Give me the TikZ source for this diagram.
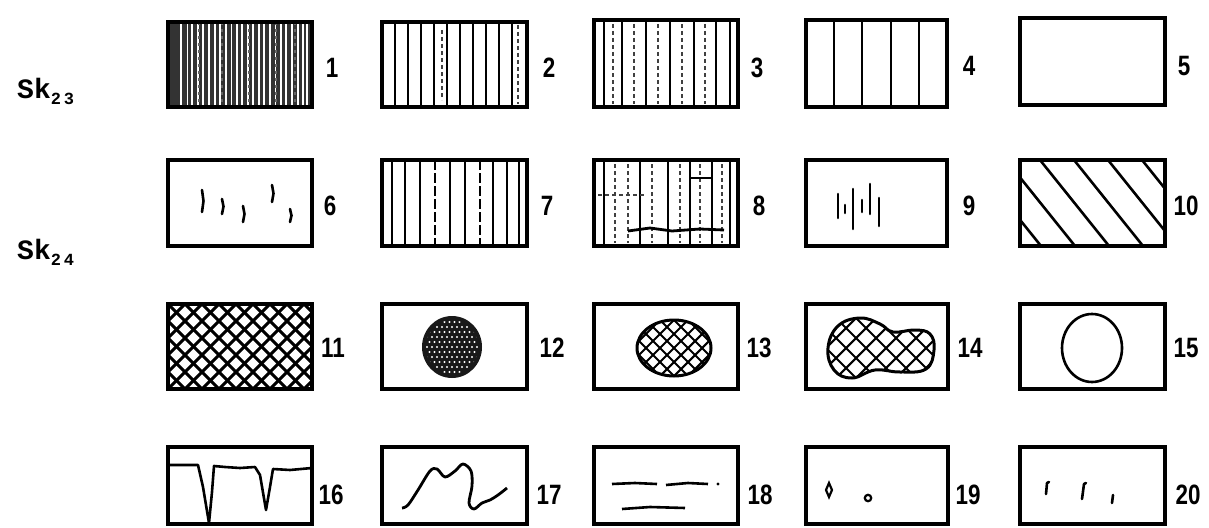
\documentclass[tikz,border=0pt]{standalone}
\usepackage{fontspec}
\setmainfont{Liberation Sans}
\newfontfamily\skfont{Liberation Mono}
\usetikzlibrary{fit}
\begin{document}
\begin{tikzpicture}[x=1pt,y=-1pt,
  frame/.style={draw=black, line width=3.4pt, inner sep=0pt},
  hatch/.style={line width=2.3pt},
  thinhatch/.style={line width=1.9pt},
  gdash/.style={line width=1.6pt, black!75, dash pattern=on 4pt off 3pt},
  tickmark/.style={line width=2.6pt, line cap=round},
  lab/.style={font=\bfseries\fontsize{28}{28}\selectfont, inner sep=0pt},
  sklab/.style={font=\skfont\bfseries\fontsize{28}{28}\selectfont, inner sep=0pt}]
\useasboundingbox (0,0) rectangle (1209,527);
\newcommand\mkframe[5]{\coordinate (#1a) at (#2,#3); \coordinate (#1b) at (#4,#5); \node[frame, fit=(#1a)(#1b)] (#1) {};}

% ---------- row 1 patterns ----------
\begin{scope}
  \clip (168,22) rectangle (312,107);
  \fill[black!80] (168,22) rectangle (312,107);
  \foreach \x/\w in {181/1.6,187/1.0,192/1.8,198/1.2,203/1.6,209/1.1,215/1.8,220/1.2,226/1.6,231/1.0,237/1.7,242/1.2,248/1.8,253/1.1,259/1.6,264/1.2,270/1.7,275/1.0,281/1.8,286/1.2,292/1.7,298/2.0,303/1.2,307/2.2}
    \draw[white, line width=\w pt] (\x,22) -- (\x,107);
  \foreach \x in {199,222,249,276,295}
    \draw[black!60, line width=1.2pt, dash pattern=on 3pt off 4pt] (\x,22) -- (\x,107);
\end{scope}
\foreach \x in {395,408,421,434,447,460,473,486,499,512}
  \draw[hatch] (\x,22) -- (\x,107);
\draw[gdash] (442,30) -- (442,100);
\draw[gdash] (518,25) -- (518,104);
\foreach \x in {604,622,646,670,694,716,730}
  \draw[thinhatch] (\x,20) -- (\x,107);
\foreach \x in {613,634,658,682,705}
  \draw[gdash] (\x,24) -- (\x,104);
\foreach \x in {834,862,891,919}
  \draw[thinhatch] (\x,20) -- (\x,107);

% ---------- row 2 patterns ----------
\foreach \x/\ya/\yb in {202/190/212,222/199/214,243/206/222,272/185/202,290/209/222}
  \draw[tickmark] (\x,\ya) -- (\x+1.5,{(\ya+\yb)/2}) -- (\x,\yb);
\foreach \x in {392,405,420,450,465,493,507,519}
  \draw[hatch] (\x,160) -- (\x,246);
\foreach \x in {435,480}
  \draw[hatch, dash pattern=on 10pt off 3pt] (\x,160) -- (\x,246);
\foreach \x in {604,640,668,690,712,730}
  \draw[thinhatch] (\x,160) -- (\x,246);
\foreach \x in {615,628,652,680,700,722}
  \draw[gdash] (\x,164) -- (\x,243);
\draw[gdash] (598,195) -- (646,195);
\draw[line width=2.8pt] (628,231) -- (650,228) -- (672,231) -- (700,229) -- (724,230);
\draw[line width=1.6pt] (690,178) -- (712,178);
\foreach \x/\ya/\yb in {838/194/218,845/205/213,853/189/229,862/200/212,870/184/214,879/198/226}
  \draw[tickmark] (\x,\ya) -- (\x,\yb);
\begin{scope}
  \clip (1020,160) rectangle (1165,246);
  \foreach \k in {-2,...,3}
    \draw[line width=2.6pt] ({1040+34*\k},160) -- ({1040+34*\k+69},246);
\end{scope}

% ---------- row 3 patterns ----------
\begin{scope}
  \clip (168,304) rectangle (312,389);
  \foreach \k in {-6,...,9} {
    \draw[line width=3pt] ({168+17*\k},304) -- ({168+17*\k+85},389);
    \draw[line width=3pt] ({168+17*\k},389) -- ({168+17*\k+85},304);
  }
\end{scope}
\fill[black!90] (452,347) ellipse [x radius=30, y radius=31];
\begin{scope}
  \clip (452,347) ellipse [x radius=26, y radius=27];
  \foreach \i in {-6,...,6}
    \foreach \j in {-6,...,6}
      \fill[white] ({452+5*\i+2.5*mod(\j,2)},{347+5*\j}) circle (1.1);
\end{scope}
\begin{scope}
  \clip (674,348) ellipse [x radius=37, y radius=28];
  \foreach \k in {-6,...,6} {
    \draw[line width=2.1pt] ({674+14*\k-30},318) -- ({674+14*\k+30},378);
    \draw[line width=2.1pt] ({674+14*\k-30},378) -- ({674+14*\k+30},318);
  }
\end{scope}
\draw[line width=3pt] (674,348) ellipse [x radius=37, y radius=28];
\newcommand\blobpath{plot[smooth cycle, tension=0.7] coordinates {(828,348) (838,326) (860,318) (880,324) (893,332) (915,330) (930,334) (934,350) (926,369) (900,372) (875,370) (852,378) (834,370)}}
\begin{scope}
  \clip \blobpath;
  \foreach \k in {-6,...,8} {
    \draw[line width=2.1pt] ({826+20*\k-30},318) -- ({826+20*\k+30},378);
    \draw[line width=2.1pt] ({826+20*\k-30},378) -- ({826+20*\k+30},318);
  }
\end{scope}
\draw[line width=3pt] \blobpath;
\draw[line width=2.6pt] (1092,348) ellipse [x radius=30, y radius=34];

% ---------- row 4 patterns ----------
\draw[line width=2.6pt, line join=round] (168,465) -- (198,465) -- (203,487) -- (209,523) -- (212,492) -- (214,466) -- (225,467) -- (240,468) -- (255,467) -- (260,475) -- (266,510) -- (270,487) -- (273,469) -- (290,470) -- (312,468);
\draw[line width=2.8pt, line join=round] plot[smooth, tension=0.55] coordinates {(402,508) (408,505) (418,490) (430,471) (437,469) (445,477) (455,471) (463,464) (471,471) (472,486) (469,503) (474,509) (482,503) (490,500) (498,495) (507,488)};
\draw[line width=2.6pt] (612,484) -- (635,483) -- (657,484);
\draw[line width=2.6pt] (666,485) -- (688,483) -- (708,484);
\fill (718,484) circle (1.6);
\draw[line width=2.6pt] (622,509) -- (650,507) -- (685,508);
\draw[line width=2.2pt] (829,483) -- (832,490) -- (829,497) -- (826,490) -- cycle;
\draw[line width=2.2pt] (868,498) circle (3.2);
\draw[tickmark] (1047,483) -- (1046,494);
\draw[tickmark] (1047,483) -- (1049,482);
\draw[tickmark] (1084,484) -- (1082,499);
\draw[tickmark] (1084,484) -- (1086,483);
\draw[tickmark] (1113,495) -- (1112,503);

% ---------- frames ----------
\mkframe{b1}{168}{22}{312}{107}
\mkframe{b2}{382}{22}{527}{107}
\mkframe{b3}{594}{20}{738}{107}
\mkframe{b4}{806}{20}{947}{107}
\mkframe{b5}{1020}{18}{1165}{105}
\mkframe{b6}{168}{160}{312}{246}
\mkframe{b7}{382}{160}{527}{246}
\mkframe{b8}{594}{160}{738}{246}
\mkframe{b9}{806}{160}{947}{246}
\mkframe{b10}{1020}{160}{1165}{246}
\mkframe{b11}{168}{304}{312}{389}
\mkframe{b12}{382}{304}{527}{389}
\mkframe{b13}{594}{304}{738}{389}
\mkframe{b14}{806}{304}{948}{389}
\mkframe{b15}{1020}{304}{1165}{389}
\mkframe{b16}{168}{447}{312}{524}
\mkframe{b17}{382}{447}{527}{524}
\mkframe{b18}{594}{447}{738}{524}
\mkframe{b19}{806}{447}{948}{524}
\mkframe{b20}{1020}{447}{1165}{524}

% ---------- labels ----------
\foreach \n/\x/\y in {1/332/68,2/549/68,3/757/68,4/969/66,5/1184/66,
  6/330/206,7/547/206,8/759/206,9/969/206,10/1186/206,
  11/333/348,12/552/348,13/759/348,14/970/348,15/1186/348,
  16/331/495,17/549/495,18/760/495,19/968/495,20/1188/495}
  \node[lab] (l\n) at (\x,\y) {\scalebox{0.8}[1]{\n}};
\node[sklab, anchor=base west] (sk23) at (17,98) {Sk\raisebox{-6pt}{\fontsize{17}{17}\selectfont 2\,3}};
\node[sklab, anchor=base west] (sk24) at (17,259) {Sk\raisebox{-6pt}{\fontsize{17}{17}\selectfont 2\,4}};
\end{tikzpicture}
\end{document}
